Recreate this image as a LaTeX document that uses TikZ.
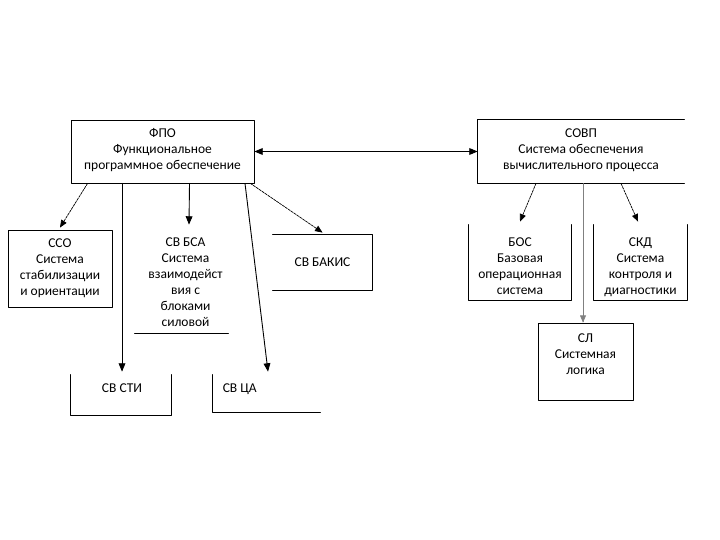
\documentclass[tikz,border=0pt]{standalone}
\usepackage{fontspec}
\setmainfont{Carlito}
\usetikzlibrary{arrows}
\tikzset{box/.style={draw=none,inner sep=0pt,line width=0.9pt}}
\tikzset{lbl/.style={anchor=north,align=center,inner sep=0pt,font=\fontsize{13.5}{16}\selectfont}}
\tikzset{dsh/.style={->,line width=0.7pt,dash pattern=on 2.5pt off 1pt}}
\begin{document}
\begin{tikzpicture}[line cap=round,line join=round,>=triangle 45,x=1pt,y=-1pt]
    \useasboundingbox[fill=white] (0,0) rectangle (720,540);
    % boxes
    \node[box,draw,minimum width=183pt,minimum height=63pt] (fpo) at (162.5,151.5) {};
    \node[box,minimum width=206pt,minimum height=63pt] (sovp) at (581,151.5) {};
    \node[box,draw,minimum width=104pt,minimum height=77pt] (sso) at (60,268.5) {};
    \node[box,minimum width=93pt,minimum height=105pt] (bsa) at (181.5,280.5) {};
    \node[box,minimum width=99pt,minimum height=55pt] (bakis) at (322.5,262.5) {};
    \node[box,minimum width=100pt,minimum height=40pt] (sti) at (121,395) {};
    \node[box,minimum width=107pt,minimum height=37pt] (ca) at (266.5,393.5) {};
    \node[box,minimum width=102pt,minimum height=75pt] (bos) at (520,262.5) {};
    \node[box,minimum width=93pt,minimum height=75pt] (skd) at (640.5,262.5) {};
    \node[box,draw,minimum width=95pt,minimum height=77pt] (sl) at (585.5,361.5) {};
    % open sides
    \draw[line width=0.9pt] (sovp.north east) -- (sovp.north west) -- (sovp.south west) -- (sovp.south east);
    \draw[line width=0.9pt] (bsa.south west) -- (bsa.south east);
    \draw[line width=0.9pt] (bakis.north west) -- (bakis.north east) -- (bakis.south east) -- (bakis.south west);
    \draw[line width=0.9pt] (sti.north west) -- (sti.south west) -- (sti.south east) -- (sti.north east);
    \draw[line width=0.9pt] (ca.north west) -- (ca.south west) -- (ca.south east);
    \draw[line width=0.9pt] (bos.north west) -- (bos.south west) -- (bos.south east) -- (bos.north east);
    \draw[line width=0.9pt] (skd.north west) -- (skd.south west) -- (skd.south east) -- (skd.north east);
    % texts
    \node[lbl] (fpo-t) at ([yshift=-9pt]fpo.north) {ФПО\\Функциональное\\программное обеспечение};
    \node[lbl] (sovp-t) at ([yshift=-9pt]sovp.north) {СОВП\\Система обеспечения\\вычислительного процесса};
    \node[lbl] (sso-t) at ([yshift=-9pt]sso.north) {ССО\\Система\\стабилизации\\и ориентации};
    \node[lbl] (bsa-t) at ([xshift=4pt,yshift=-10pt]bsa.north) {СВ БСА\\Система\\взаимодейст\\вия с\\блоками\\силовой};
    \node[lbl,anchor=center] (bakis-t) at (bakis.center) {СВ БАКИС};
    \node[lbl] (sti-t) at ([xshift=1pt,yshift=-9pt]sti.north) {СВ СТИ};
    \node[lbl,anchor=north west] (ca-t) at ([xshift=10pt,yshift=-9pt]ca.north west) {СВ ЦА};
    \node[lbl] (bos-t) at ([yshift=-13pt]bos.north) {БОС\\Базовая\\операционная\\система};
    \node[lbl] (skd-t) at ([yshift=-13pt]skd.north) {СКД\\Система\\контроля и\\диагностики};
    \node[lbl] (sl-t) at ([yshift=-11pt]sl.north) {СЛ\\Системная\\логика};
    % connectors
    \draw[<->,line width=0.9pt] (fpo.east) -- (sovp.west);
    \draw[dsh] ([xshift=17pt]fpo.south west) -- ([yshift=2pt]sso.north);
    \draw[->,line width=0.9pt] ([xshift=27pt]fpo.south) -- ([xshift=7.5pt,yshift=3pt]bsa.north);
    \draw[->,line width=0.9pt] ([xshift=-40.5pt]fpo.south) -- ([xshift=1pt,yshift=3pt]sti.north);
    \draw[->,line width=0.9pt] ([xshift=82.5pt]fpo.south) -- ([xshift=1.5pt,yshift=3pt]ca.north);
    \draw[dsh] ([xshift=-4pt]fpo.south east) -- ([yshift=2pt]bakis.north);
    \draw[dsh] ([xshift=-45pt]sovp.south) -- ([yshift=3pt]bos.north);
    \draw[dsh] ([xshift=40pt]sovp.south) -- ([xshift=-2.5pt,yshift=3pt]skd.north);
    \draw[->,line width=0.6pt,color=gray] ([xshift=2pt]sovp.south) -- ([xshift=-2.5pt]sl.north);
\end{tikzpicture}
\end{document}
